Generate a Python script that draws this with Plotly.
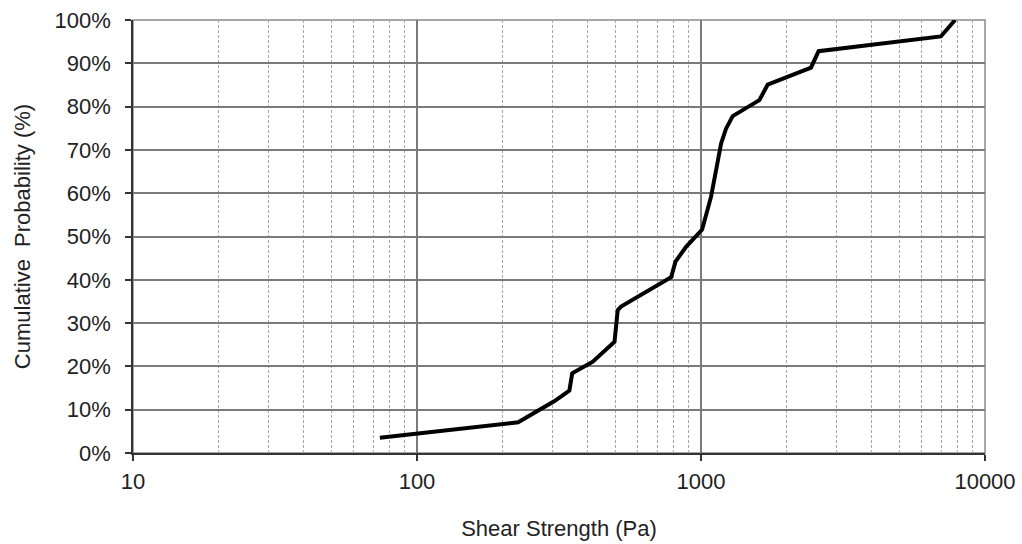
import plotly.graph_objects as go

shear_pa = [74, 227, 305, 344, 352, 416, 496, 509, 523, 785, 813, 886, 1009,
            1085, 1130, 1177, 1225, 1293, 1605, 1717, 2440, 2594, 6990, 7850]
cum_prob = [3.5, 7.1, 12.0, 14.4, 18.4, 21.1, 25.7, 33.0, 33.8, 40.6, 44.2, 47.6, 51.6,
            59.2, 65.3, 71.5, 74.9, 77.8, 81.5, 85.1, 89.0, 92.8, 96.2, 100.0]

x_major = [10, 100, 1000, 10000]
x_minor = [m * d for d in (10, 100, 1000) for m in range(2, 10)]
y_ticks = list(range(0, 101, 10))

font_family = "Liberation Sans, Arial, sans-serif"

fig = go.Figure()
fig.add_trace(go.Scatter(x=shear_pa, y=cum_prob, mode="lines",
                         line=dict(color="black", width=4), showlegend=False))

fig.update_layout(
    width=1022, height=544,
    margin=dict(l=133, r=37, t=20, b=91),
    paper_bgcolor="white", plot_bgcolor="white",
    font=dict(family=font_family, size=22, color="#222"),
    xaxis=dict(
        type="log", range=[1, 4], automargin=False,
        tickmode="array", tickvals=x_major, ticktext=[str(v) for v in x_major],
        ticks="outside", ticklen=6, tickcolor="#333", tickwidth=1.5,
        ticklabelstandoff=2,
        showgrid=True, gridcolor="#7a7a7a", gridwidth=2,
        showline=True, linecolor="#333", linewidth=1.5,
        zeroline=False,
        minor=dict(tickmode="array", tickvals=x_minor, showgrid=True,
                   gridcolor="#a8a8a8", griddash="3px,2px", gridwidth=1, ticks=""),
        title=dict(text="Shear Strength (Pa)", font=dict(size=22), standoff=27),
        tickfont=dict(size=22),
    ),
    yaxis=dict(
        range=[0, 100], automargin=False, tickmode="array", tickvals=y_ticks,
        ticktext=[f"{v}%" for v in y_ticks],
        ticks="outside", ticklen=6, tickcolor="#333", tickwidth=1.5,
        ticklabelstandoff=10,
        showgrid=True, gridcolor="#7a7a7a", gridwidth=2,
        showline=True, linecolor="#333", linewidth=1.5,
        zeroline=False,
        title=dict(text="Cumulative  Probability (%)", font=dict(size=22), standoff=18),
        tickfont=dict(size=22),
    ),
)
fig.add_shape(type="rect", xref="paper", yref="paper", x0=0, x1=1, y0=0, y1=1,
              line=dict(color="#8a8a8a", width=1.5), layer="below")

fig.write_html("out.html")
